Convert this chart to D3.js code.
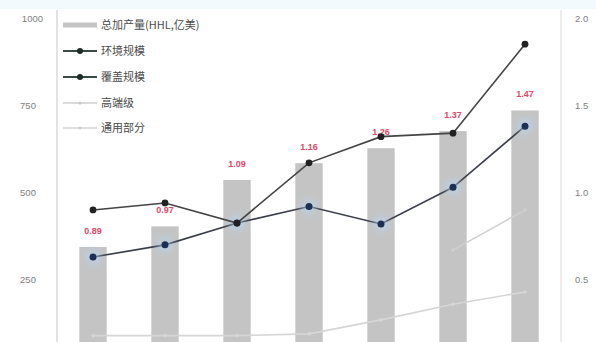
<!DOCTYPE html>
<html>
<head>
<meta charset="utf-8">
<script src="https://cdn.jsdelivr.net/npm/d3@7"></script>
<style>
  html, body { margin: 0; padding: 0; background: #fff; }
  svg { display: block; font-family: "Noto Sans CJK SC", "Noto Sans", sans-serif; }
</style>
</head>
<body>
<svg id="chart" width="596" height="342"></svg>
<script>
// Categories (periods) along the x axis
const categories = ["2016", "2017", "2018", "2019", "2020", "2021", "2022"];

// Bar series (left axis)
const barValues = [344, 403, 536, 584, 627, 676, 735];
// Ratio annotations printed above the bars
const barLabels = ["0.89", "0.97", "1.09", "1.16", "1.26", "1.37", "1.47"];

// Line series (right axis)
const lineA = [0.90, 0.94, 0.825, 1.17, 1.32, 1.34, 1.85];
const lineB = [0.63, 0.70, 0.825, 0.92, 0.82, 1.03, 1.38];
const lineC = [null, null, null, null, null, 0.67, 0.90];
const lineD = [0.18, 0.18, 0.18, 0.19, 0.27, 0.36, 0.43];

// Legend entries
const legendNames = ["总加产量(HHL,亿美)", "环境规模", "覆盖规模", "高端级", "通用部分"];

// Axis tick values
const leftTicks = [250, 500, 750, 1000];
const rightTicks = [0.5, 1.0, 1.5, 2.0];

const svg = d3.select("#chart");

// faint band at the top edge
svg.append("rect").attr("x", 0).attr("y", 0).attr("width", 596).attr("height", 9)
  .attr("fill", "#f3fafd");

const x = d3.scaleBand().domain(categories).range([57, 561])
  .paddingInner(0.62).paddingOuter(0.31);
const yL = d3.scaleLinear().domain([0, 1000]).range([367, 18]);
const yR = d3.scaleLinear().domain([0, 2.0]).range([367, 18]);
const cx = d => x(d) + x.bandwidth() / 2;

// axis lines
svg.append("line").attr("x1", 57).attr("x2", 57).attr("y1", 10).attr("y2", 342)
  .attr("stroke", "#e2e2e2").attr("stroke-width", 2);
svg.append("line").attr("x1", 561).attr("x2", 561).attr("y1", 10).attr("y2", 342)
  .attr("stroke", "#ececec").attr("stroke-width", 2);

// left axis labels
const leftAxis = d3.axisLeft(yL).tickValues(leftTicks).tickSize(0).tickPadding(0)
  .tickFormat(d3.format("d"));
const gL = svg.append("g").attr("transform", "translate(43,0)").call(leftAxis);
gL.select(".domain").remove();
gL.selectAll("text").attr("fill", "#808080").style("font-size", "9.5px")
  .style("font-family", "'Liberation Sans', Arial, sans-serif");
gL.selectAll(".tick").filter(d => d !== 1000).select("text")
  .attr("text-anchor", "middle").attr("x", -15);

// right axis labels
const rightAxis = d3.axisRight(yR).tickValues(rightTicks).tickSize(0).tickPadding(0)
  .tickFormat(d3.format(".1f"));
const gR = svg.append("g").attr("transform", "translate(575,0)").call(rightAxis);
gR.select(".domain").remove();
gR.selectAll("text").attr("fill", "#808080").style("font-size", "9.5px")
  .style("font-family", "'Liberation Sans', Arial, sans-serif");

// bars
svg.append("g").selectAll("rect").data(categories).join("rect")
  .attr("x", d => x(d))
  .attr("width", x.bandwidth())
  .attr("y", (d, i) => yL(barValues[i]))
  .attr("height", (d, i) => yL(0) - yL(barValues[i]))
  .attr("fill", "#c4c4c4");

// ratio labels above bars
svg.append("g").selectAll("text").data(categories).join("text")
  .attr("x", d => cx(d))
  .attr("y", (d, i) => yL(barValues[i]) - 13)
  .attr("text-anchor", "middle")
  .attr("fill", "#e0486a")
  .style("font-size", "9px").style("font-weight", "bold")
  .style("font-family", "'Liberation Sans', Arial, sans-serif")
  .text((d, i) => barLabels[i]);

// glow filter for highlighted markers
const defs = svg.append("defs");
defs.append("filter").attr("id", "glow").attr("x", "-100%").attr("y", "-100%")
  .attr("width", "300%").attr("height", "300%")
  .append("feGaussianBlur").attr("stdDeviation", 3);

function drawLine(values, color, width, markerColor, r, glow) {
  const pts = categories.map((c, i) => [c, values[i]]).filter(p => p[1] != null);
  const line = d3.line().x(p => cx(p[0])).y(p => yR(p[1]));
  svg.append("path").datum(pts).attr("d", line)
    .attr("fill", "none").attr("stroke", color).attr("stroke-width", width);
  if (glow) {
    svg.append("g").selectAll("circle").data(pts).join("circle")
      .attr("cx", p => cx(p[0])).attr("cy", p => yR(p[1])).attr("r", 8)
      .attr("fill", "#b5d8f3").attr("opacity", 0.55).attr("filter", "url(#glow)");
  }
  svg.append("g").selectAll("circle").data(pts).join("circle")
    .attr("cx", p => cx(p[0])).attr("cy", p => yR(p[1])).attr("r", r)
    .attr("fill", markerColor);
}

drawLine(lineD, "#d6d6d6", 1.6, "#d6d6d6", 1.8, false);
drawLine(lineC, "#d0d0d0", 1.6, "#d0d0d0", 1.8, false);
drawLine(lineB, "#3b3f4a", 1.6, "#1d2f55", 3.5, true);
drawLine(lineA, "#444444", 1.6, "#222222", 3.4, false);

// legend
const legendY = [25, 51, 77, 103, 128];
const lg = svg.append("g");
lg.append("rect").attr("x", 63).attr("y", legendY[0] - 2.5).attr("width", 34).attr("height", 5)
  .attr("fill", "#c4c4c4");
const legendLines = [
  { stroke: "#3a4a44", marker: "#1e2a26", r: 3, w: 1.8 },
  { stroke: "#3a4a44", marker: "#1e2a26", r: 3, w: 1.8 },
  { stroke: "#cfcfcf", marker: "#c8c8c8", r: 1.6, w: 1.4 },
  { stroke: "#d4d4d4", marker: "#cccccc", r: 1.6, w: 1.4 }
];
legendLines.forEach((s, i) => {
  const yy = legendY[i + 1];
  lg.append("line").attr("x1", 63).attr("x2", 97).attr("y1", yy).attr("y2", yy)
    .attr("stroke", s.stroke).attr("stroke-width", s.w);
  lg.append("circle").attr("cx", 80).attr("cy", yy).attr("r", s.r).attr("fill", s.marker);
});
lg.selectAll("text").data(legendNames).join("text")
  .attr("x", 101).attr("y", (d, i) => legendY[i] + 4)
  .attr("fill", "#4a4a4a").style("font-size", "11px")
  .text(d => d);
</script>
</body>
</html>
